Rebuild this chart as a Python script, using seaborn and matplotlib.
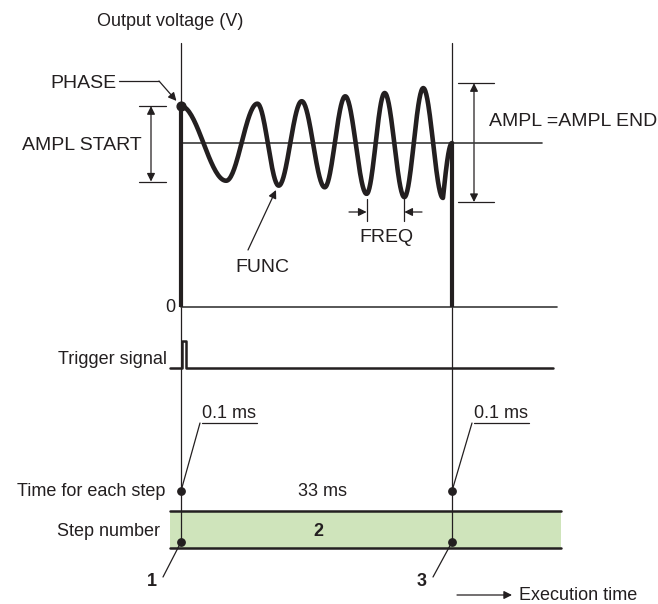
import numpy as np
import pandas as pd
import matplotlib.pyplot as plt
import seaborn as sns
from matplotlib.transforms import blended_transform_factory
from matplotlib.patches import Rectangle

sns.set_style('white')
plt.rcParams['font.family'] = ['Liberation Sans', 'DejaVu Sans']

# Waveform extrema (time in ms, voltage in arbitrary units)
wave_t = [0.0, 5.5, 9.3, 11.9, 14.7, 17.5, 20.0, 22.6, 24.8, 27.2, 29.5, 31.9, 33.0]
wave_v = [2.45, 1.54, 2.48, 1.48, 2.51, 1.46, 2.57, 1.38, 2.61, 1.34, 2.67, 1.33, 2.0]
offset_v = 2.0
ampl_start = [2.45, 1.53]
ampl_end = [2.73, 1.28]
freq_marks = [22.6, 27.2]

# Trigger signal (time in ms, level 0/1)
trig_t = [-1.35, 0.1, 0.1, 0.6, 0.6, 45.3]
trig_level = [0, 0, 1, 1, 0, 0]

# Steps
step_bounds = [0.0, 33.0]
step_labels = ['1', '2', '3']
step_time_label = '33 ms'
edge_time_label = '0.1 ms'
band_t = [-1.35, 46.3]

INK = '#231f20'


def smooth(ts, vs, n=40):
    # half-cosine between extrema, quarter-sine into the final point
    xs, ys = [], []
    for i in range(len(ts) - 1):
        u = np.linspace(0, 1, n)
        if i == len(ts) - 2:
            w = np.sin(u * np.pi / 2)
        else:
            w = (1 - np.cos(np.pi * u)) / 2
        xs += list(ts[i] + (ts[i + 1] - ts[i]) * u)
        ys += list(vs[i] + (vs[i + 1] - vs[i]) * w)
    return pd.DataFrame({'t': xs, 'v': ys})


W, H = 658, 604
fig = plt.figure(figsize=(W / 100, H / 100), dpi=100)

# overlay in pixel coordinates for labels / dimension lines
ov = fig.add_axes([0, 0, 1, 1])
ov.set_xlim(0, W)
ov.set_ylim(H, 0)
ov.axis('off')

# voltage panel
ax = fig.add_axes([181 / W, 1 - 307 / H, 271 / W, 264 / H])
ax.set_xlim(0, 33)
ax.set_ylim(0, 3.22)
ax.axis('off')

# trigger panel
tax = fig.add_axes([181 / W, 1 - 368 / H, 271 / W, 27 / H])
tax.set_xlim(0, 33)
tax.set_ylim(0, 1)
tax.axis('off')

bt = blended_transform_factory(ax.transData, ov.transData)   # x: ms, y: px
bv = blended_transform_factory(ov.transData, ax.transData)   # x: px, y: volts

# --- voltage panel ---
ax.plot([0, 44], [offset_v, offset_v], color='#3a3a3a', lw=1.2, clip_on=False)
ax.plot([0, 45.8], [0, 0], color='#3a3a3a', lw=1.2, clip_on=False)
wave = smooth(wave_t, wave_v)
sns.lineplot(data=wave, x='t', y='v', sort=False, estimator=None, ax=ax,
             color=INK, lw=3.3, clip_on=False)
ax.plot([0, 0], [0, wave_v[0]], color=INK, lw=3.0, solid_capstyle='butt', clip_on=False)
ax.plot([step_bounds[1]] * 2, [0, offset_v], color=INK, lw=3.0, solid_capstyle='butt', clip_on=False)
ax.scatter([0], [wave_v[0]], s=40, color=INK, zorder=5, clip_on=False)

# thin vertical step lines
for tb in step_bounds:
    ov.plot([tb, tb], [43, 542], transform=bt, color=INK, lw=0.9)

# --- trigger ---
sns.lineplot(x=trig_t, y=trig_level, sort=False, estimator=None, ax=tax,
             color=INK, lw=1.8, clip_on=False)

# --- step band ---
ov.add_patch(Rectangle((band_t[0], 511), band_t[1] - band_t[0], 37, transform=bt,
                       facecolor='#cfe4bb', edgecolor='none', zorder=0))
for yy in (511, 548):
    ov.plot(band_t, [yy, yy], transform=bt, color=INK, lw=1.8)
for tb in step_bounds:
    ov.scatter([tb, tb], [491, 542], transform=bt, s=28, color=INK, zorder=5)

fs = 13
txt = dict(fontsize=fs, color=INK)
cap = dict(fontsize=14, color=INK)
arrow = dict(arrowstyle='-|>', color=INK, lw=0.9, mutation_scale=12, shrinkA=0, shrinkB=0)
dbl = dict(arrowstyle='<|-|>', color=INK, lw=0.9, mutation_scale=12, shrinkA=0, shrinkB=0)
thin = dict(arrowstyle='-', color=INK, lw=0.9, shrinkA=0, shrinkB=0)

ov.text(170, 21, 'Output voltage (V)', ha='center', va='center', **txt)
ov.text(175, 307, '0', ha='right', va='center', **txt)

# PHASE
ov.text(117, 84, 'PHASE', ha='right', va='center', **cap)
ov.plot([119, 159], [81, 81], color=INK, lw=0.9)
ov.annotate('', xy=(0, wave_v[0]), xycoords=ax.transData, xytext=(159, 81),
            textcoords='data', arrowprops=dict(arrow, shrinkB=5))

# AMPL START
for v in ampl_start:
    ov.plot([139, 166], [v, v], transform=bv, color=INK, lw=0.9)
ov.annotate('', xy=(151, ampl_start[0]), xycoords=bv, xytext=(151, ampl_start[1]),
            textcoords=bv, arrowprops=dbl)
ov.text(142, 146, 'AMPL START', ha='right', va='center', **cap)

# AMPL END
for v in ampl_end:
    ov.plot([458, 494], [v, v], transform=bv, color=INK, lw=0.9)
ov.annotate('', xy=(474, ampl_end[0]), xycoords=bv, xytext=(474, ampl_end[1]),
            textcoords=bv, arrowprops=dbl)
ov.text(489, 122, 'AMPL =AMPL END', ha='left', va='center', **cap)

# FUNC
ov.annotate('', xy=(276, 190), xytext=(248, 250), arrowprops=arrow)
ov.text(262, 267, 'FUNC', ha='center', va='center', **cap)

# FREQ
for tf in freq_marks:
    ov.plot([tf, tf], [199, 221], transform=bt, color=INK, lw=0.9)
ov.annotate('', xy=(freq_marks[0], 212), xycoords=bt, xytext=(349, 212),
            textcoords='data', arrowprops=arrow)
ov.annotate('', xy=(freq_marks[1], 212), xycoords=bt, xytext=(422, 212),
            textcoords='data', arrowprops=arrow)
ov.text(386, 238, 'FREQ', ha='center', va='center', **cap)

# lower labels
ov.text(167, 360, 'Trigger signal', ha='right', va='center', **txt)
ov.text(165, 492, 'Time for each step', ha='right', va='center', **txt)
ov.text(160, 532, 'Step number', ha='right', va='center', **txt)
ov.text(323, 492, step_time_label, ha='center', va='center', **txt)
ov.text(318, 532, step_labels[1], ha='center', va='center', fontweight='bold', **txt)

# 0.1 ms callouts
for tb, x_txt in zip(step_bounds, (202, 474)):
    ov.text(x_txt, 414, edge_time_label, ha='left', va='center', **txt)
    ov.plot([x_txt, x_txt + 55], [423, 423], color=INK, lw=0.9)
    ov.annotate('', xy=(tb, 491), xycoords=bt, xytext=(x_txt - 2, 423),
                textcoords='data', arrowprops=thin)

# step number callouts
for tb, lab, x_end in zip(step_bounds, (step_labels[0], step_labels[2]), (163, 433)):
    ov.annotate('', xy=(tb, 542), xycoords=bt, xytext=(x_end, 577),
                textcoords='data', arrowprops=thin)
    ov.text(x_end - 11, 582, lab, ha='center', va='center', fontweight='bold', **txt)

# execution time
ov.annotate('', xy=(512, 595), xytext=(457, 595), arrowprops=arrow)
ov.text(519, 595, 'Execution time', ha='left', va='center', **txt)

fig.savefig('out.png', dpi=100)
